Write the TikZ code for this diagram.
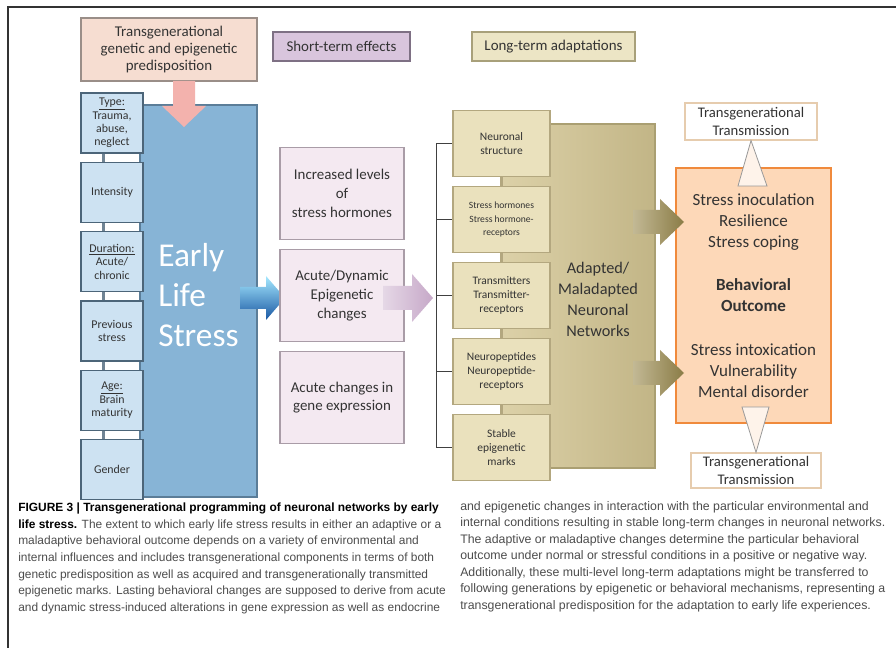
\documentclass[tikz,border=0pt]{standalone}
\usepackage{fontspec}
\setmainfont{Carlito}
\newfontfamily\capfont{Liberation Sans}
\usepackage{xcolor}
\usetikzlibrary{positioning,calc}

\definecolor{prefill}{HTML}{F6DDD1}
\definecolor{preline}{HTML}{9A8E88}
\definecolor{shortfill}{HTML}{D9C5DD}
\definecolor{shortline}{HTML}{7E7084}
\definecolor{longfill}{HTML}{ECE5C5}
\definecolor{longline}{HTML}{A8A07A}
\definecolor{factorfill}{HTML}{CDE2F2}
\definecolor{factorline}{HTML}{4C6579}
\definecolor{elsfill}{HTML}{87B4D6}
\definecolor{elsline}{HTML}{5B7D98}
\definecolor{effectfill}{HTML}{F4E9F1}
\definecolor{effectline}{HTML}{A99CA7}
\definecolor{adaptfill}{HTML}{EAE1BD}
\definecolor{adaptline}{HTML}{B3A77F}
\definecolor{netfill}{HTML}{D3C592}
\definecolor{netline}{HTML}{AA9F72}
\definecolor{outfill}{HTML}{FDD8B8}
\definecolor{outline}{HTML}{F08A3C}
\definecolor{transline}{HTML}{E6CCAE}
\definecolor{arrowolive}{HTML}{9A8A4E}
\definecolor{arrowpink}{HTML}{F3B2AD}
\definecolor{arrowlilac}{HTML}{C6A8C8}
\definecolor{ink}{HTML}{333333}

\tikzset{
    box/.style={
        draw,
        line width=0.8pt,
        align=center,
        inner sep=1pt,
        text=ink,
    },
    header/.style={
        box,
        font=\fontsize{11.2}{13}\selectfont,
    },
    factor/.style={
        box,
        fill=factorfill,
        draw=factorline,
        minimum width=46.5pt,
        minimum height=45pt,
        font=\fontsize{8.9}{10}\selectfont,
    },
    effect/.style={
        box,
        fill=effectfill,
        draw=effectline,
        minimum width=93pt,
        minimum height=69pt,
        font=\fontsize{11.2}{14}\selectfont,
    },
    adapt/.style={
        box,
        fill=adaptfill,
        draw=adaptline,
        minimum width=72.75pt,
        minimum height=49.5pt,
        font=\fontsize{8.6}{10.5}\selectfont,
    },
    trans/.style={
        box,
        fill=white,
        draw=transline,
        font=\fontsize{11}{13}\selectfont,
    },
    link/.style={line width=2pt, draw=factorline!80},
    link2/.style={line width=2pt, draw=adaptline},
    bracket/.style={line width=0.7pt, draw=black!75},
    tri/.style={fill=outfill!30, draw=black!40, line width=0.6pt},
    olivearrow/.style={left color=arrowolive!60!white, right color=arrowolive!90!black},
    caption/.style={
        anchor=north west,
        align=left,
        inner sep=0pt,
        text=black!70,
        font=\capfont\fontsize{9.25}{12.4}\selectfont,
    },
}

\begin{document}
\begin{tikzpicture}[x=0.75pt, y=-0.75pt, node distance=6.2pt]
    \useasboundingbox (0,0) rectangle (896,648);
    \draw[line width=1.1pt, black!80] (896,7) -- (8,7) -- (8,648);

    % headings
    \node[header, fill=prefill, draw=preline, minimum width=132pt, minimum height=47.25pt] (pre) at (169,49.5) {Transgenerational\\genetic and epigenetic\\predisposition};
    \node[header, fill=shortfill, draw=shortline, minimum width=102.75pt, minimum height=21.75pt] (short) at (341.5,46.5) {Short-term effects};
    \node[header, fill=longfill, draw=longline, minimum width=122.25pt, minimum height=21.75pt] (long) at (553.5,46.5) {Long-term adaptations};

    % early life stress and its factors
    \node[box, fill=elsfill, draw=elsline, minimum width=87.75pt, minimum height=294pt] (ELS) at (198.5,301) {};
    \node[anchor=west, align=left, text=white, inner sep=0pt, font=\fontsize{25}{30}\selectfont] (ELStext) at (158,295) {Early\\Life\\Stress};
    \fill[arrowpink] (173,81) -- (195,81) -- (195,106) -- (206,106) -- (184,127) -- (162,106) -- (173,106) -- cycle;

    \node[factor] (F1) at (112,123) {\underline{Type:}\\Trauma,\\abuse,\\neglect};
    \node[factor, below=of F1] (F2) {Intensity};
    \node[factor, below=of F2] (F3) {\underline{Duration:}\\Acute/\\chronic};
    \node[factor, below=of F3] (F4) {Previous\\stress};
    \node[factor, below=of F4] (F5) {\underline{Age:}\\Brain\\maturity};
    \node[factor, below=of F5] (F6) {Gender};
    \foreach \a/\b in {F1/F2,F2/F3,F3/F4,F4/F5,F5/F6}
        \draw[link] ([xshift=-6.4pt]\a.south) -- ([xshift=-6.4pt]\b.north);

    \shade[top color=blue!25!cyan!35, bottom color=blue!55!cyan!60!black!90] (240,287) -- (266,287) -- (266,276) -- (285,298) -- (266,320) -- (266,309) -- (240,309) -- cycle;

    % short-term effects
    \node[effect] (E1) at (342,193.5) {Increased levels\\of\\stress hormones};
    \node[effect, below=6.7pt of E1] (E2) {Acute/Dynamic\\Epigenetic\\changes};
    \node[effect, below=6.7pt of E2] (E3) {Acute changes in\\gene expression};
    \shade[left color=arrowlilac!45!white, right color=arrowlilac] (383,286) -- (412,286) -- (412,274) -- (433,298) -- (412,322) -- (412,310) -- (383,310) -- cycle;

    % long-term adaptations
    \node[box, draw=netline, left color=netfill!80!white, right color=netfill!92!black, minimum width=114.75pt, minimum height=258pt] (net) at (578.5,296) {};
    \node[align=center, text=ink, font=\fontsize{12.2}{15.75}\selectfont] (nettext) at (598,299) {Adapted/\\Maladapted\\Neuronal\\Networks};

    \node[adapt] (A1) at (501.5,143.5) {Neuronal\\structure};
    \node[adapt, below=6.7pt of A1, font=\fontsize{7.2}{10}\selectfont] (A2) {Stress hormones\\Stress hormone-\\receptors};
    \node[adapt, below=6.7pt of A2] (A3) {Transmitters\\Transmitter-\\receptors};
    \node[adapt, below=6.7pt of A3] (A4) {Neuropeptides\\Neuropeptide-\\receptors};
    \node[adapt, below=6.7pt of A4] (A5) {Stable\\epigenetic\\marks};
    \foreach \a/\b in {A1/A2,A2/A3,A3/A4,A4/A5}
        \draw[link2] (\a.south) -- (\b.north);

    \coordinate (spine) at (436,0);
    \draw[bracket] (spine |- A1.west) -- (spine |- A5.west);
    \foreach \n in {A1,A2,A3,A4,A5}
        \draw[bracket] (spine |- \n.west) -- (\n.west);

    % behavioral outcome
    \node[box, fill=outfill, draw=outline, line width=1.5pt, minimum width=116.25pt, minimum height=191.25pt, font=\fontsize{12.75}{15.75}\selectfont] (out) at (753.5,295.5)
        {Stress inoculation\\Resilience\\Stress coping\\[17pt]\textbf{Behavioral}\\\textbf{Outcome}\\[17pt]Stress intoxication\\Vulnerability\\Mental disorder};
    \shade[olivearrow] (633,210) -- (660,210) -- (660,199) -- (684,222) -- (660,245) -- (660,234) -- (633,234) -- cycle;
    \shade[olivearrow] (633,361) -- (660,361) -- (660,350) -- (684,373) -- (660,396) -- (660,385) -- (633,385) -- cycle;

    \node[trans, minimum width=99pt, minimum height=27.75pt] (T1) at (751,121.5) {Transgenerational\\Transmission};
    \node[trans, minimum width=97.5pt, minimum height=26.25pt] (T2) at (756,470.5) {Transgenerational\\Transmission};
    \filldraw[tri] (738,186) -- (767,186) -- (T1.south) -- cycle;
    \filldraw[tri] (742,407) -- (769,407) -- (T2.north) -- cycle;

    % caption
    \node[caption, font=\capfont\fontsize{8.95}{12.4}\selectfont] (capL) at (18,503) {\textbf{\color{black}FIGURE 3 | Transgenerational programming of neuronal networks by early}\\
        \textbf{\color{black}life stress.} The extent to which early life stress results in either an adaptive or a\\
        maladaptive behavioral outcome depends on a variety of environmental and\\
        internal influences and includes transgenerational components in terms of both\\
        genetic predisposition as well as acquired and transgenerationally transmitted\\
        epigenetic marks. Lasting behavioral changes are supposed to derive from acute\\
        and dynamic stress-induced alterations in gene expression as well as endocrine};
    \node[caption] (capR) at (460,501) {and epigenetic changes in interaction with the particular environmental and\\
        internal conditions resulting in stable long-term changes in neuronal networks.\\
        The adaptive or maladaptive changes determine the particular behavioral\\
        outcome under normal or stressful conditions in a positive or negative way.\\
        Additionally, these multi-level long-term adaptations might be transferred to\\
        following generations by epigenetic or behavioral mechanisms, representing a\\
        transgenerational predisposition for the adaptation to early life experiences.};
\end{tikzpicture}
\end{document}
